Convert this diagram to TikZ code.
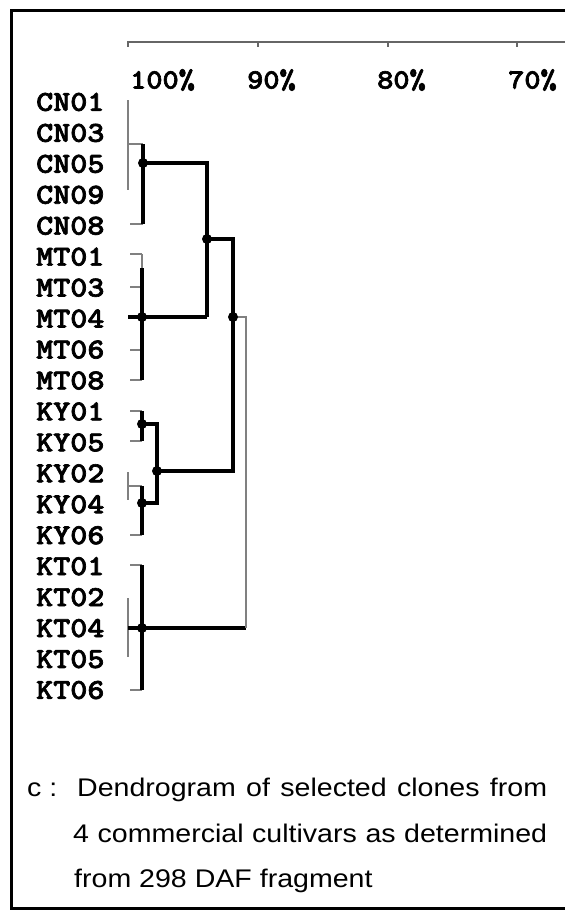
\documentclass[tikz,border=0pt]{standalone}
\usepackage{fontspec}
\newfontfamily\capfont{Liberation Sans}
\newfontfamily\labfont{lmmonolt10-bold.otf}[FakeBold=2.2]
\begin{document}
\begin{tikzpicture}[x=1pt,y=-1pt,
  frame/.style={line width=3pt,black},
  thk/.style={line width=3.2pt,black},
  thn/.style={line width=1.3pt,black!50},
  axis/.style={line width=1.2pt,black!60},
  dot/.style={circle,fill=black,inner sep=0pt,minimum size=10pt},
  leaf/.style={anchor=west,inner sep=0pt,font=\fontsize{29}{29}\labfont},
  pct/.style={anchor=west,inner sep=0pt,font=\fontsize{28}{28}\labfont},
  captext/.style={anchor=base west,inner sep=0pt,font=\fontsize{25.5}{25.5}\capfont}]
\useasboundingbox (0,0) rectangle (565,910);
% frame
\coordinate (ftr) at (565,10);
\coordinate (ftl) at (11,10);
\coordinate (fbl) at (11,908);
\coordinate (fbr) at (565,908);
\draw[frame] (ftr) -- (ftl) -- (fbl) -- (fbr);
% axis
\coordinate (a0) at (128,42);
\coordinate (a1) at (565,42);
\draw[axis] (a0) -- (a1);
\foreach \x in {128,258,388,517}{\draw[axis] (\x,41) -- (\x,47);}
\foreach \x/\t [count=\k] in {130/100\%,247/90\%,377/80\%,508/70\%}{
  \node[pct] (p\k) at (\x,80) {\scalebox{1.1}[1]{\t}};
}
% leaf labels
\foreach \n [count=\i from 0] in {CN01,CN03,CN05,CN09,CN08,MT01,MT03,MT04,MT06,MT08,KY01,KY05,KY02,KY04,KY06,KT01,KT02,KT04,KT05,KT06}{
  \node[leaf] (\n) at (36,{102+30.95*\i}) {\scalebox{1.12}[1]{\n}};
}
% junction coordinates
\coordinate (cnA) at (143,144);
\coordinate (cnD) at (143,163);
\coordinate (cnB) at (143,224);
\coordinate (cnR) at (207,163);
\coordinate (cmJ) at (207,239);
\coordinate (mtD) at (142,317);
\coordinate (mtR) at (207,317);
\coordinate (cmR) at (233,239);
\coordinate (allJ) at (233,317);
\coordinate (allR) at (246,317);
\coordinate (kyJ) at (233,471);
\coordinate (kyD) at (157,471);
\coordinate (ky1) at (142,424);
\coordinate (ky1R) at (157,424);
\coordinate (ky2) at (142,503);
\coordinate (ky2R) at (157,503);
\coordinate (ktD) at (142,628);
\coordinate (ktR) at (246,628);
% CN cluster
\draw[thn] (128,100) -- (128,190);
\draw[thn] (128,144) -- (cnA);
\draw[thn] (130,224) -- (cnB);
\draw[thk] (cnA) -- (cnB);
\draw[thk] (cnD) -- (cnR) -- (mtR);
% MT cluster
\draw[thn] (130,254) -- (142,254);
\draw[thn] (130,287) -- (142,287);
\draw[thn] (130,350) -- (142,350);
\draw[thn] (130,380) -- (142,380);
\draw[thn] (142,254) -- (142,268);
\draw[thk] (142,268) -- (142,380);
\draw[thk] (128,317) -- (mtD) -- (mtR);
% CN+MT join
\draw[thk] (cmJ) -- (cmR) -- (kyJ) -- (kyD);
% KY cluster
\draw[thn] (130,411) -- (142,411);
\draw[thn] (130,441) -- (142,441);
\draw[thk] (142,411) -- (142,441);
\draw[thk] (ky1) -- (ky1R) -- (ky2R) -- (ky2);
\draw[thn] (128,472) -- (128,500);
\draw[thn] (128,486) -- (142,486);
\draw[thn] (130,535) -- (142,535);
\draw[thk] (142,486) -- (142,535);
% KT cluster
\draw[thn] (130,565) -- (142,565);
\draw[thn] (130,690) -- (142,690);
\draw[thk] (142,565) -- (142,690);
\draw[thn] (128,598) -- (128,657);
\draw[thk] (128,628) -- (ktD) -- (ktR);
% top join
\draw[thn] (allJ) -- (allR) -- (ktR);
% dots
\foreach \c in {cnD,cmJ,mtD,allJ,kyD,ky1,ky2,ktD}{\node[dot] at (\c) {};}
% caption
\node[captext] (c0) at (27,796) {\scalebox{1.12}[1]{c :}};
\node[captext] (c1) at (77,796) {\scalebox{1.12}[1]{\makebox[419.6pt][s]{Dendrogram of selected clones from}}};
\node[captext] (c2) at (73,842) {\scalebox{1.12}[1]{\makebox[423.2pt][s]{4 commercial cultivars as determined}}};
\node[captext] (c3) at (74,887) {\scalebox{1.12}[1]{from 298 DAF fragment}};
\end{tikzpicture}
\end{document}
